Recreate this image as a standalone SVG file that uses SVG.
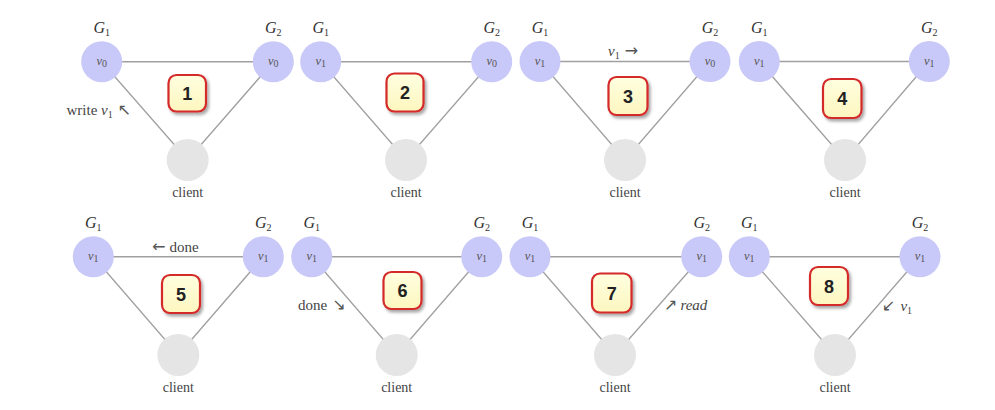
<svg xmlns="http://www.w3.org/2000/svg" width="995" height="410" viewBox="0 0 995 410">
<defs>
<style>
.srv{fill:#c9c9f9}
.cli{fill:#e5e5e5}
.edge{stroke:#a0a0a0;stroke-width:1.4;fill:none}
.g{font-family:"Liberation Serif","DejaVu Serif",serif;font-style:italic;font-size:16px;fill:#333;text-anchor:middle}
.v{font-family:"Liberation Serif","DejaVu Serif",serif;font-style:italic;font-size:12.5px;fill:#555;text-anchor:middle}
.sub{font-size:10px;font-style:normal}
.lbl{font-family:"Liberation Serif","DejaVu Serif",serif;font-size:15px;fill:#444}
.cl{font-family:"Liberation Serif","DejaVu Serif",serif;font-size:14px;fill:#444;text-anchor:middle}
.arr{font-family:"DejaVu Sans",sans-serif;font-size:16px;fill:#555}
.box{fill:url(#yel);stroke:#d42a2a;stroke-width:2.2;filter:url(#sh)}
.num{font-family:"Liberation Sans",Arial,sans-serif;font-weight:bold;font-size:18px;fill:#222;text-anchor:middle}
</style>
<linearGradient id="yel" x1="0" y1="0" x2="0" y2="1">
<stop offset="0" stop-color="#ffffe0"/>
<stop offset="1" stop-color="#fdf6bf"/>
</linearGradient>
<filter id="sh" x="-30%" y="-30%" width="170%" height="170%">
<feDropShadow dx="2" dy="2.5" stdDeviation="1.8" flood-color="#000" flood-opacity="0.35"/>
</filter>
</defs>
<rect width="995" height="410" fill="#ffffff"/>

<g id="connectors">
<path class="edge" d="M101.7 61.7H273.3L187.7 160Z"/>
<path class="edge" d="M320.7 61.7H491.7L406 160Z"/>
<path class="edge" d="M540 61.5H710L625 160Z"/>
<path class="edge" d="M759.3 61.5H929.3L845 160Z"/>
<path class="edge" d="M93.3 256.7H263.3L178.3 355Z"/>
<path class="edge" d="M311.7 256.7H481.7L396.7 355Z"/>
<path class="edge" d="M530 256.7H701.7L615 355Z"/>
<path class="edge" d="M749.3 256.7H920L835 355Z"/>
</g>

<!-- Panel 1 -->
<g id="p1-g1"><text class="g" x="101.7" y="33">G<tspan class="sub" dy="3">1</tspan></text><circle class="srv" cx="101.7" cy="61.7" r="20.5"/><text class="v" x="101.7" y="65">v<tspan class="sub" dy="2">0</tspan></text></g>
<g id="p1-g2"><text class="g" x="273.3" y="33">G<tspan class="sub" dy="3">2</tspan></text><circle class="srv" cx="273.3" cy="61.7" r="20.5"/><text class="v" x="273.3" y="65">v<tspan class="sub" dy="2">0</tspan></text></g>
<g id="p1-client"><circle class="cli" cx="187.7" cy="160" r="21"/><text class="cl" x="187.7" y="197">client</text></g>
<g id="p1-step"><rect class="box" x="168.5" y="75" width="37.5" height="36.5" rx="8"/><text class="num" x="187.3" y="99.5">1</text></g>
<text class="lbl" x="66.5" y="115">write <tspan font-style="italic">v</tspan><tspan class="sub" dy="3">1</tspan><tspan class="arr" dy="-3" dx="5">↖</tspan></text>

<!-- Panel 2 -->
<g id="p2-g1"><text class="g" x="320.7" y="33">G<tspan class="sub" dy="3">1</tspan></text><circle class="srv" cx="320.7" cy="61.7" r="20.5"/><text class="v" x="320.7" y="65">v<tspan class="sub" dy="2">1</tspan></text></g>
<g id="p2-g2"><text class="g" x="491.7" y="33">G<tspan class="sub" dy="3">2</tspan></text><circle class="srv" cx="491.7" cy="61.7" r="20.5"/><text class="v" x="491.7" y="65">v<tspan class="sub" dy="2">0</tspan></text></g>
<g id="p2-client"><circle class="cli" cx="406" cy="160" r="21"/><text class="cl" x="406" y="197">client</text></g>
<g id="p2-step"><rect class="box" x="386.5" y="73.5" width="37" height="38" rx="8"/><text class="num" x="405" y="99">2</text></g>

<!-- Panel 3 -->
<g id="p3-g1"><text class="g" x="540" y="33">G<tspan class="sub" dy="3">1</tspan></text><circle class="srv" cx="540" cy="61.5" r="20.5"/><text class="v" x="540" y="65">v<tspan class="sub" dy="2">1</tspan></text></g>
<g id="p3-g2"><text class="g" x="710" y="33">G<tspan class="sub" dy="3">2</tspan></text><circle class="srv" cx="710" cy="61.5" r="20.5"/><text class="v" x="710" y="65">v<tspan class="sub" dy="2">0</tspan></text></g>
<g id="p3-client"><circle class="cli" cx="625" cy="160" r="21"/><text class="cl" x="625" y="197">client</text></g>
<g id="p3-step"><rect class="box" x="608.5" y="77" width="39" height="38" rx="8"/><text class="num" x="628" y="102.5">3</text></g>
<text class="lbl" x="608" y="56"><tspan font-style="italic">v</tspan><tspan class="sub" dy="3">1</tspan><tspan class="arr" dy="-3" dx="5">→</tspan></text>

<!-- Panel 4 -->
<g id="p4-g1"><text class="g" x="759.3" y="33">G<tspan class="sub" dy="3">1</tspan></text><circle class="srv" cx="759.3" cy="61.5" r="20.5"/><text class="v" x="759.3" y="65">v<tspan class="sub" dy="2">1</tspan></text></g>
<g id="p4-g2"><text class="g" x="929.3" y="33">G<tspan class="sub" dy="3">2</tspan></text><circle class="srv" cx="929.3" cy="61.5" r="20.5"/><text class="v" x="929.3" y="65">v<tspan class="sub" dy="2">1</tspan></text></g>
<g id="p4-client"><circle class="cli" cx="845" cy="160" r="21"/><text class="cl" x="845" y="197">client</text></g>
<g id="p4-step"><rect class="box" x="823" y="79" width="38.5" height="39" rx="8"/><text class="num" x="842.3" y="105">4</text></g>

<!-- Panel 5 -->
<g id="p5-g1"><text class="g" x="93.3" y="228">G<tspan class="sub" dy="3">1</tspan></text><circle class="srv" cx="93.3" cy="256.7" r="20.5"/><text class="v" x="93.3" y="260">v<tspan class="sub" dy="2">1</tspan></text></g>
<g id="p5-g2"><text class="g" x="263.3" y="228">G<tspan class="sub" dy="3">2</tspan></text><circle class="srv" cx="263.3" cy="256.7" r="20.5"/><text class="v" x="263.3" y="260">v<tspan class="sub" dy="2">1</tspan></text></g>
<g id="p5-client"><circle class="cli" cx="178.3" cy="355" r="21"/><text class="cl" x="178.3" y="392">client</text></g>
<g id="p5-step"><rect class="box" x="162" y="275" width="38" height="38" rx="8"/><text class="num" x="181" y="300.5">5</text></g>
<text class="lbl" x="152" y="252"><tspan class="arr">←</tspan><tspan dx="4">done</tspan></text>

<!-- Panel 6 -->
<g id="p6-g1"><text class="g" x="311.7" y="228">G<tspan class="sub" dy="3">1</tspan></text><circle class="srv" cx="311.7" cy="256.7" r="20.5"/><text class="v" x="311.7" y="260">v<tspan class="sub" dy="2">1</tspan></text></g>
<g id="p6-g2"><text class="g" x="481.7" y="228">G<tspan class="sub" dy="3">2</tspan></text><circle class="srv" cx="481.7" cy="256.7" r="20.5"/><text class="v" x="481.7" y="260">v<tspan class="sub" dy="2">1</tspan></text></g>
<g id="p6-client"><circle class="cli" cx="396.7" cy="355" r="21"/><text class="cl" x="396.7" y="392">client</text></g>
<g id="p6-step"><rect class="box" x="383.5" y="272" width="38" height="37" rx="8"/><text class="num" x="402.5" y="297">6</text></g>
<text class="lbl" x="298" y="310">done<tspan class="arr" dx="5">↘</tspan></text>

<!-- Panel 7 -->
<g id="p7-g1"><text class="g" x="530" y="228">G<tspan class="sub" dy="3">1</tspan></text><circle class="srv" cx="530" cy="256.7" r="20.5"/><text class="v" x="530" y="260">v<tspan class="sub" dy="2">1</tspan></text></g>
<g id="p7-g2"><text class="g" x="701.7" y="228">G<tspan class="sub" dy="3">2</tspan></text><circle class="srv" cx="701.7" cy="256.7" r="20.5"/><text class="v" x="701.7" y="260">v<tspan class="sub" dy="2">1</tspan></text></g>
<g id="p7-client"><circle class="cli" cx="615" cy="355" r="21"/><text class="cl" x="615" y="392">client</text></g>
<g id="p7-step"><rect class="box" x="592" y="273.5" width="39.5" height="39" rx="8"/><text class="num" x="611.8" y="299.5">7</text></g>
<text class="lbl" x="664" y="310"><tspan class="arr">↗</tspan><tspan font-style="italic" dx="3">read</tspan></text>

<!-- Panel 8 -->
<g id="p8-g1"><text class="g" x="749.3" y="228">G<tspan class="sub" dy="3">1</tspan></text><circle class="srv" cx="749.3" cy="256.7" r="20.5"/><text class="v" x="749.3" y="260">v<tspan class="sub" dy="2">1</tspan></text></g>
<g id="p8-g2"><text class="g" x="920" y="228">G<tspan class="sub" dy="3">2</tspan></text><circle class="srv" cx="920" cy="256.7" r="20.5"/><text class="v" x="920" y="260">v<tspan class="sub" dy="2">1</tspan></text></g>
<g id="p8-client"><circle class="cli" cx="835" cy="355" r="21"/><text class="cl" x="835" y="392">client</text></g>
<g id="p8-step"><rect class="box" x="810" y="267" width="38" height="38" rx="8"/><text class="num" x="829" y="292.5">8</text></g>
<text class="lbl" x="882" y="311"><tspan class="arr">↙</tspan><tspan font-style="italic" dx="5">v</tspan><tspan class="sub" dy="3">1</tspan></text>
</svg>
